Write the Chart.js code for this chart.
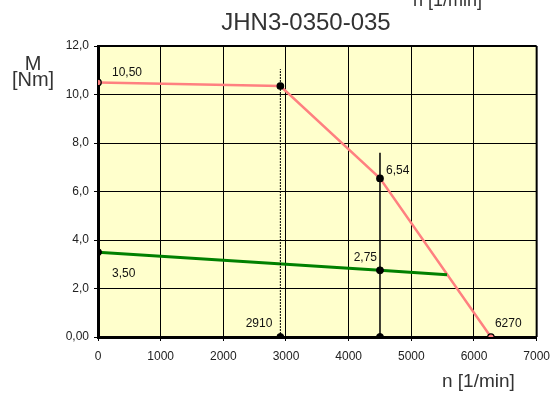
<!DOCTYPE html>
<html><head><meta charset="utf-8">
<script src="https://cdn.jsdelivr.net/npm/chart.js@4"></script>
<style>html,body{margin:0;padding:0;background:#fff}#wrap{width:558px;height:394px}</style>
</head><body><div id="wrap"><canvas id="c" width="558" height="394"></canvas></div>
<script>
// ---- data ----
const titleText = 'JHN3-0350-035';
const xTitle = 'n [1/min]';
const yTitle = ['M', '[Nm]'];
const xTicks = [0, 1000, 2000, 3000, 4000, 5000, 6000, 7000];
const yTickValues = [0, 2, 4, 6, 8, 10, 12];
const yTickLabels = ['0,00', '2,0', '4,0', '6,0', '8,0', '10,0', '12,0'];
const peakSpeed = [0, 2910, 4500, 6270];
const peakTorque = [10.5, 10.35, 6.54, 0];
const contSpeed = [0, 4500, 5570];
const contTorque = [3.5, 2.75, 2.57];
const markerLine1 = [2910, 11.05];   // speed, top torque
const markerLine2 = [4500, 7.6];
const labelTexts = ['10,50', '3,50', '2,75', '6,54', '2910', '6270'];
const labelX = [0, 0, 4500, 4500, 2910, 6270];
const labelY = [10.5, 3.5, 2.75, 6.54, 0, 0];

const pts = (xs, ys) => xs.map((x, i) => ({x, y: ys[i]}));
// label placement (pixels) [dx, dy, align]
const labelPlace = [[14,-6,'left'],[14,25,'left'],[-3,-9,'right'],[6,-4,'left'],[-8,-10,'right'],[4,-10,'left']];

const bgPlugin = {
  id: 'bg',
  beforeDraw(chart) {
    const {ctx, chartArea: a} = chart;
    ctx.save();
    ctx.fillStyle = '#FFFFCC';
    ctx.fillRect(a.left, a.top, a.right - a.left, a.bottom - a.top);
    ctx.restore();
  },
  afterDraw(chart) {
    const {ctx, chartArea: a, scales: {x, y}} = chart;
    ctx.save();
    ctx.strokeStyle = '#000';
    ctx.lineWidth = 2;
    ctx.beginPath();
    ctx.moveTo(a.left, a.top); ctx.lineTo(a.right, a.top);
    ctx.moveTo(a.right, a.top); ctx.lineTo(a.right, a.bottom);
    ctx.stroke();
    ctx.fillStyle = '#111';
    ctx.font = '12px "Liberation Sans", Arial, sans-serif';
    ctx.textBaseline = 'alphabetic';
    labelTexts.forEach((t, i) => {
      const p = labelPlace[i];
      ctx.textAlign = p[2];
      ctx.fillText(t, x.getPixelForValue(labelX[i]) + p[0], y.getPixelForValue(labelY[i]) + p[1]);
    });
    ctx.fillStyle = '#333';
    ctx.font = '24px "Liberation Sans", Arial, sans-serif';
    ctx.textAlign = 'center';
    ctx.fillText(titleText, 306, 30);
    ctx.font = '19px "Liberation Sans", Arial, sans-serif';
    ctx.textAlign = 'left';
    ctx.fillText(xTitle, 442, 387);
    ctx.font = '18px "Liberation Sans", Arial, sans-serif';
    ctx.fillText(xTitle, 413, 6);
    ctx.font = '20px "Liberation Sans", Arial, sans-serif';
    ctx.textAlign = 'center';
    ctx.fillText(yTitle[0], 33, 70);
    ctx.fillText(yTitle[1], 33, 86);
    ctx.restore();
  }
};

new Chart(document.getElementById('c'), {
  type: 'scatter',
  data: {
    datasets: [
      {data: [{x: markerLine1[0], y: 0}, {x: markerLine1[0], y: markerLine1[1]}], showLine: true,
       borderColor: '#000', borderWidth: 1, borderDash: [2, 1], pointRadius: 0},
      {data: [{x: markerLine2[0], y: 0}, {x: markerLine2[0], y: markerLine2[1]}], showLine: true,
       borderColor: '#000', borderWidth: 1.5, pointRadius: 0},
      {data: pts(contSpeed, contTorque), showLine: true, borderColor: '#008000', borderWidth: 3,
       pointRadius: [3.5, 3.5, 0], pointBackgroundColor: '#000', pointBorderColor: '#000', pointBorderWidth: 1},
      {data: pts(peakSpeed, peakTorque), showLine: true, borderColor: '#FF8080', borderWidth: 2.5,
       pointRadius: 3.2, pointBackgroundColor: ['#FF8080', '#000', '#000', '#FF8080'], pointBorderColor: '#000', pointBorderWidth: 1.3},
      {data: [{x: markerLine1[0], y: 0}, {x: markerLine2[0], y: 0}], showLine: false,
       pointRadius: 3.5, pointBackgroundColor: '#000', pointBorderColor: '#000'}
    ]
  },
  options: {
    responsive: false,
    animation: false,
    events: [],
    layout: {padding: {left: 0, right: 20, top: 46, bottom: 0}},
    plugins: {legend: {display: false}, tooltip: {enabled: false}},
    scales: {
      x: {
        type: 'linear', min: 0, max: 7000,
        afterBuildTicks: s => { s.ticks = xTicks.map(v => ({value: v})); },
        afterFit: s => { s.height = 57; },
        ticks: {color: '#222', font: {family: '"Liberation Sans", Arial, sans-serif', size: 12}, padding: 8, maxRotation: 0,
                callback: v => String(v)},
        grid: {color: '#000', lineWidth: 1, tickLength: 4, tickColor: '#000'},
        border: {color: '#000', width: 3}
      },
      y: {
        type: 'linear', min: 0, max: 12,
        afterBuildTicks: s => { s.ticks = yTickValues.map(v => ({value: v})); },
        afterFit: s => { s.width = 98; },
        ticks: {color: '#222', font: {family: '"Liberation Sans", Arial, sans-serif', size: 12}, padding: 5,
                callback: v => yTickLabels[yTickValues.indexOf(v)]},
        grid: {color: '#000', lineWidth: 1, tickLength: 4, tickColor: '#000'},
        border: {color: '#000', width: 3}
      }
    }
  },
  plugins: [bgPlugin]
});
</script></body></html>
